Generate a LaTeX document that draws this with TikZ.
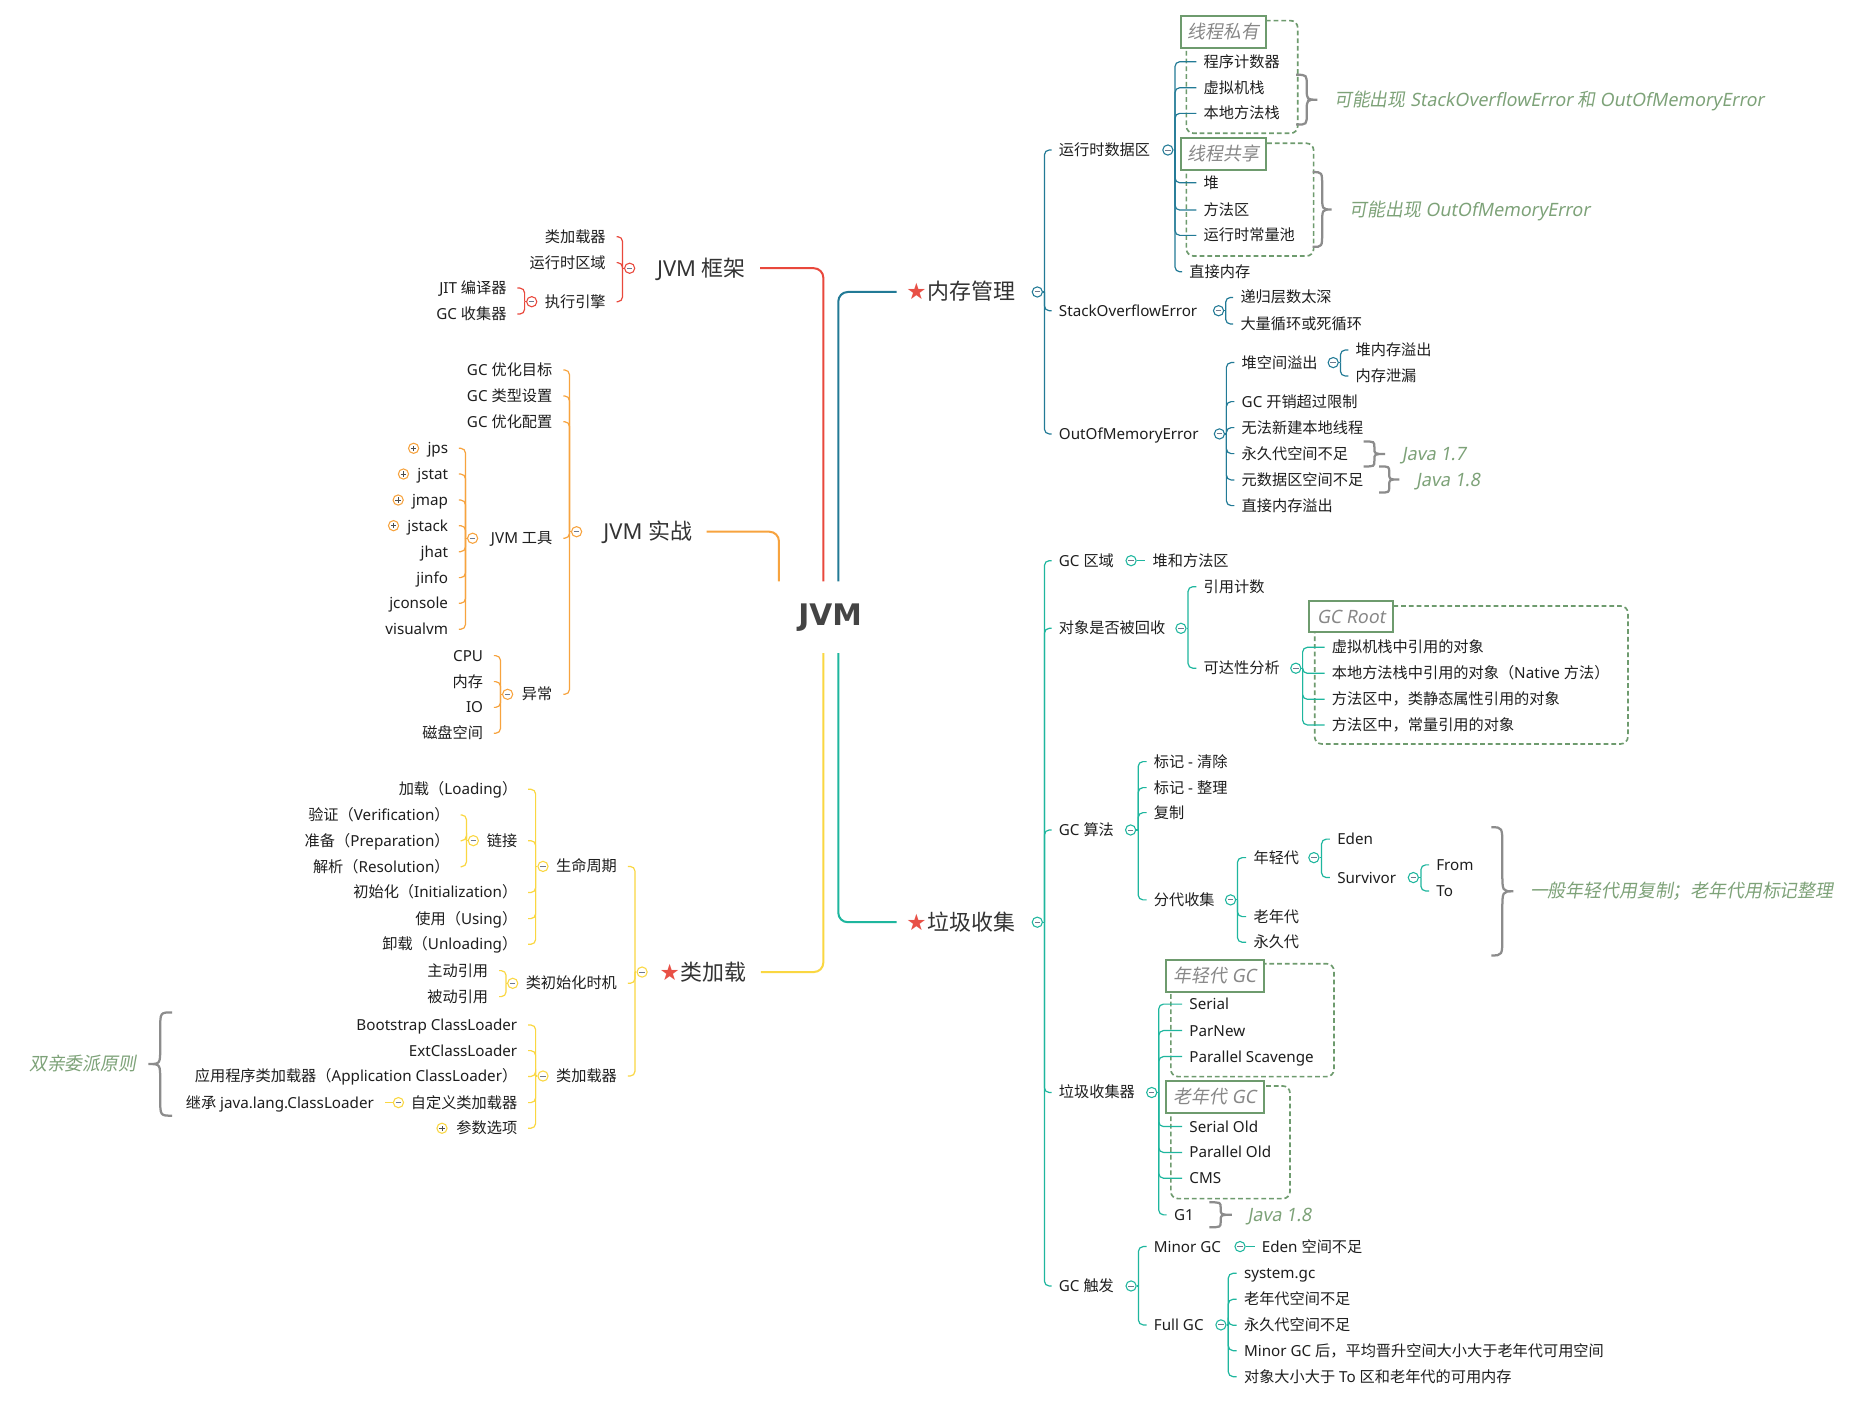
\documentclass[tikz,border=0pt]{standalone}
\usepackage{fontspec}
\setmainfont{Noto Sans}
\newfontfamily\mainlatin{Noto Sans}
\newfontfamily\cjkfont{Noto Sans CJK SC}
\newfontfamily\dejavu{DejaVu Sans}
\newfontfamily\notelatin[FakeSlant=0.18,FakeStretch=0.97]{Noto Sans}
\newfontfamily\notecjk[FakeSlant=0.18,FakeStretch=0.97]{Noto Sans CJK SC}
\let\curlatin\mainlatin
\let\curcjk\cjkfont
\XeTeXinterchartokenstate=1
\newXeTeXintercharclass\CJKclass
\newcount\cjkc
\cjkc="3000
\loop\XeTeXcharclass\cjkc=\CJKclass\advance\cjkc by 1\ifnum\cjkc<"A000\repeat
\cjkc="FF00
\loop\XeTeXcharclass\cjkc=\CJKclass\advance\cjkc by 1\ifnum\cjkc<"FFF0\repeat
\XeTeXinterchartoks 0 \CJKclass={\curcjk}
\XeTeXinterchartoks 4095 \CJKclass={\curcjk}
\XeTeXinterchartoks \CJKclass 0={\curlatin}
\XeTeXinterchartoks \CJKclass 4095={\curlatin}

\definecolor{cR}{RGB}{233,72,60}
\definecolor{cO}{RGB}{247,163,62}
\definecolor{cY}{RGB}{250,215,65}
\definecolor{cB}{RGB}{34,122,150}
\definecolor{cT}{RGB}{30,182,158}
\definecolor{txt}{RGB}{30,30,30}
\definecolor{mtxt}{RGB}{51,51,51}
\definecolor{jvmc}{RGB}{68,68,68}
\definecolor{notegreen}{RGB}{125,162,120}
\definecolor{boxgreen}{RGB}{110,155,110}
\definecolor{titlegray}{RGB}{135,135,135}
\definecolor{bracegray}{RGB}{140,140,140}
\definecolor{mincol}{RGB}{110,120,140}
\definecolor{starred}{RGB}{232,80,70}

\newcommand\notesty{\let\curlatin\notelatin\let\curcjk\notecjk\notelatin\fontsize{15.5}{17}\selectfont}
\newcommand\staricon{{\color{starred}\dejavu\fontsize{19}{19}\selectfont ★}\hspace{0.5pt}}

\tikzset{
  sml/.style={font=\fontsize{12.8}{14}\selectfont, text=txt, inner ysep=0pt, text height=10.2pt, text depth=1pt},
  rn/.style={sml, anchor=west, inner xsep=6pt},
  ln/.style={sml, anchor=east, inner xsep=9pt},
  mainfnt/.style={font=\fontsize{18.5}{20}\selectfont, text=mtxt, inner ysep=0pt, text height=14.4pt, text depth=1pt},
  mainr/.style={mainfnt, anchor=west, inner xsep=8pt},
  mainl/.style={mainfnt, anchor=east, inner xsep=12pt},
  sub/.style={draw=#1, line width=1pt, rounded corners=4pt},
  mainline/.style={draw=#1, line width=1.7pt, rounded corners=8pt},
  notenode/.style={font=\notesty, text=notegreen, inner sep=0pt, anchor=west, text height=12.2pt, text depth=1pt},
  titlebox/.style={draw=boxgreen, line width=1.8pt, fill=white, font=\notesty, text=titlegray, inner sep=0pt, text height=12.2pt, text depth=1pt},
  dashbox/.style={draw=boxgreen, line width=1.4pt, dash pattern=on 4pt off 2.5pt, rounded corners=6pt},
  bracepath/.style={draw=bracegray, line width=1.9pt},
}

\newcommand\mincirc[4]{%
  \node[circle, draw=#4, fill=white, line width=0.9pt, minimum size=8.6pt, inner sep=0pt] (#1) at (#2,#3) {};
  \draw[mincol, line width=0.8pt] ([xshift=-2.3pt]#1.center) -- ([xshift=2.3pt]#1.center);}
\newcommand\pluscirc[3]{%
  \node[circle, draw=#3, fill=white, line width=0.9pt, minimum size=8.6pt, inner sep=0pt] (#1) at (#2) {};
  \draw[black!70, line width=0.8pt] ([xshift=-2.3pt]#1.center) -- ([xshift=2.3pt]#1.center)
     ([yshift=-2.3pt]#1.center) -- ([yshift=2.3pt]#1.center);}
\newcommand\rconn[3]{\foreach \nn in {#3} {\draw[sub=#1] (#2) |- (\nn.west);}}
\newcommand\lconn[3]{\foreach \nn in {#3} {\draw[sub=#1] (#2) |- (\nn.east);}}
\newcommand\curlyb[5]{%
  \draw[bracepath] (#1,#3) .. controls ({(#1+#2)/2},#3) .. ({(#1+#2)/2},{#3+#5})
   -- ({(#1+#2)/2},{(#3+#4)/2-#5}) .. controls ({(#1+#2)/2},{(#3+#4)/2}) .. (#2,{(#3+#4)/2})
   .. controls ({(#1+#2)/2},{(#3+#4)/2}) .. ({(#1+#2)/2},{(#3+#4)/2+#5})
   -- ({(#1+#2)/2},{#4-#5}) .. controls ({(#1+#2)/2},#4) .. (#1,#4);}

\begin{document}
\begin{tikzpicture}[x=1pt,y=-1pt]
\useasboundingbox[fill=white] (0,0) rectangle (1568,1183);

% ---------- dashed group boxes ----------
\draw[dashbox] (999.6,17.4) rectangle (1093.4,112.3);
\draw[dashbox] (999.6,120.7) rectangle (1106.8,215.7);
\draw[dashbox] (1107.7,510.6) rectangle (1371.6,626.8);
\draw[dashbox] (986.5,812) rectangle (1123.9,907.1);
\draw[dashbox] (986.5,915) rectangle (1086.9,1009.9);

% ---------- centre and main branches ----------
\node[font=\dejavu\bfseries\fontsize{25}{28}\selectfont, text=jvmc, minimum height=60pt, inner sep=0pt] (jvm) at (699.5,520) {JVM};
\node[mainl] (kj) at (640.5,226) {JVM 框架};
\node[mainl] (sz) at (595.4,448) {JVM 实战};
\node[mainl] (jz) at (641,819) {\staricon{}类加载};
\node[mainr] (mm) at (755.5,246) {\staricon{}内存管理};
\node[mainr] (lj) at (755.5,777) {\staricon{}垃圾收集};
\draw[mainline=cR] ([xshift=-5.8pt]jvm.north) |- (kj.east);
\draw[mainline=cO] ([xshift=-43.2pt]jvm.north) |- (sz.east);
\draw[mainline=cY] ([xshift=-5.8pt]jvm.south) |- (jz.east);
\draw[mainline=cB] ([xshift=6.8pt]jvm.north) |- (mm.west);
\draw[mainline=cT] ([xshift=6.8pt]jvm.south) |- (lj.west);

% ---------- JVM 框架 ----------
\mincirc{kjc}{530.5}{226}{cR}
\coordinate (kjb) at (524.5,226);
\node[ln] (k1) at (519.5,199.4) {类加载器};
\node[ln] (k2) at (519.5,221.3) {运行时区域};
\node[ln] (k3) at (519.5,254.2) {执行引擎};
\draw[sub=cR] (kjc) -- (kjb);
\lconn{cR}{kjb}{k1,k2,k3}
\mincirc{k3c}{448}{254.2}{cR}
\coordinate (k3b) at (442,254.2);
\node[ln] (k31) at (436,242.7) {JIT 编译器};
\node[ln] (k32) at (436,264.6) {GC 收集器};
\draw[sub=cR] (k3c) -- (k3b);
\lconn{cR}{k3b}{k31,k32}

% ---------- JVM 实战 ----------
\mincirc{szc}{485.8}{448}{cO}
\coordinate (szb) at (479.8,448);
\node[ln] (s1) at (474.6,311.7) {GC 优化目标};
\node[ln] (s2) at (474.6,333.6) {GC 类型设置};
\node[ln] (s3) at (474.6,355.3) {GC 优化配置};
\node[ln] (s4) at (474.6,453.5) {JVM 工具};
\node[ln] (s5) at (474.6,585) {异常};
\draw[sub=cO] (szc) -- (szb);
\lconn{cO}{szb}{s1,s2,s3,s4,s5}
\mincirc{s4c}{398.2}{453.5}{cO}
\coordinate (s4b) at (392.2,453.5);
\node[ln] (t1) at (386.7,377.7) {jps};
\node[ln] (t2) at (386.7,399.4) {jstat};
\node[ln] (t3) at (386.7,421.3) {jmap};
\node[ln] (t4) at (386.7,442.9) {jstack};
\node[ln] (t5) at (386.7,464.8) {jhat};
\node[ln] (t6) at (386.7,486.7) {jinfo};
\node[ln] (t7) at (386.7,508.3) {jconsole};
\node[ln] (t8) at (386.7,530.2) {visualvm};
\draw[sub=cO] (s4c) -- (s4b);
\lconn{cO}{s4b}{t1,t2,t3,t4,t5,t6,t7,t8}
\pluscirc{t1p}{[xshift=-2.5pt]t1.west}{cO}
\pluscirc{t2p}{[xshift=-2.5pt]t2.west}{cO}
\pluscirc{t3p}{[xshift=-2.5pt]t3.west}{cO}
\pluscirc{t4p}{[xshift=-2.5pt]t4.west}{cO}
\mincirc{s5c}{427.7}{585}{cO}
\coordinate (s5b) at (421.7,585);
\node[ln] (e1) at (416.2,552.4) {CPU};
\node[ln] (e2) at (416.2,574.3) {内存};
\node[ln] (e3) at (416.2,596) {IO};
\node[ln] (e4) at (416.2,617.8) {磁盘空间};
\draw[sub=cO] (s5c) -- (s5b);
\lconn{cO}{s5b}{e1,e2,e3,e4}

% ---------- 类加载 ----------
\mincirc{jzc}{541}{819}{cY}
\coordinate (jzb) at (535,819);
\node[ln] (y1) at (529,730) {生命周期};
\node[ln] (y2) at (529,828.5) {类初始化时机};
\node[ln] (y3) at (529,906.6) {类加载器};
\draw[sub=cY] (jzc) -- (jzb);
\lconn{cY}{jzb}{y1,y2,y3}
\mincirc{y1c}{457.5}{730}{cY}
\coordinate (y1b) at (451.3,730);
\node[ln] (l1) at (445,665) {加载（Loading）};
\node[ln] (l2) at (445,708.3) {链接};
\node[ln] (l3) at (445,752) {初始化（Initialization）};
\node[ln] (l4) at (445,774) {使用（Using）};
\node[ln] (l5) at (445,795.6) {卸载（Unloading）};
\draw[sub=cY] (y1c) -- (y1b);
\lconn{cY}{y1b}{l1,l2,l3,l4,l5}
\mincirc{l2c}{398.8}{708.3}{cY}
\coordinate (l2b) at (393,708.3);
\node[ln] (l21) at (388,686.6) {验证（Verification）};
\node[ln] (l22) at (388,708.3) {准备（Preparation）};
\node[ln] (l23) at (388,730.2) {解析（Resolution）};
\draw[sub=cY] (l2c) -- (l2b);
\lconn{cY}{l2b}{l21,l22,l23}
\mincirc{y2c}{432}{828.5}{cY}
\coordinate (y2b) at (426.4,828.5);
\node[ln] (i1) at (420.5,817.8) {主动引用};
\node[ln] (i2) at (420.5,839.7) {被动引用};
\draw[sub=cY] (y2c) -- (y2b);
\lconn{cY}{y2b}{i1,i2}
\mincirc{y3c}{457.5}{906.6}{cY}
\coordinate (y3b) at (451.3,906.6);
\node[ln] (c1) at (445,863.6) {Bootstrap ClassLoader};
\node[ln] (c2) at (445,885.2) {ExtClassLoader};
\node[ln] (c3) at (445,907) {应用程序类加载器（Application ClassLoader）};
\node[ln] (c4) at (445,929) {自定义类加载器};
\node[ln] (c5) at (445,950.6) {参数选项};
\draw[sub=cY] (y3c) -- (y3b);
\lconn{cY}{y3b}{c1,c2,c3,c4,c5}
\mincirc{c4c}{335.7}{929}{cY}
\node[ln] (c41) at (324.2,929) {继承 java.lang.ClassLoader};
\draw[sub=cY] (c4c) -- (c41.east);
\pluscirc{c5p}{[xshift=-3pt]c5.west}{cY}
\curlyb{145}{125}{853}{940}{14}
\node[notenode, anchor=east] (nq) at (115,896) {双亲委派原则};

% ---------- 内存管理 ----------
\mincirc{mmc}{874}{246}{cB}
\coordinate (mmb) at (880,246);
\node[rn] (m1) at (886,126.4) {运行时数据区};
\node[rn] (m2) at (886,261.8) {StackOverflowError};
\node[rn] (m3) at (886,365.6) {OutOfMemoryError};
\draw[sub=cB] (mmc) -- (mmb);
\rconn{cB}{mmb}{m1,m2,m3}
\mincirc{m1c}{984}{126.4}{cB}
\coordinate (m1b) at (990,126.4);
\node[rn] (m11) at (1008,52) {程序计数器};
\node[rn] (m12) at (1008,73.9) {虚拟机栈};
\node[rn] (m13) at (1008,95.5) {本地方法栈};
\node[rn] (m14) at (1008,154) {堆};
\node[rn] (m15) at (1008,177) {方法区};
\node[rn] (m16) at (1008,198.3) {运行时常量池};
\node[rn] (m17) at (996,229) {直接内存};
\draw[sub=cB] (m1c) -- (m1b);
\rconn{cB}{m1b}{m11,m12,m13,m14,m15,m16,m17}
\node[titlebox, minimum width=71.6pt, minimum height=27.5pt] (tb1) at (1030.8,27) {线程私有};
\node[titlebox, minimum width=71.6pt, minimum height=27.2pt] (tb2) at (1030.8,129.6) {线程共享};
\curlyb{1092}{1110}{63}{105}{9}
\node[notenode] (n1) at (1124,84) {可能出现 StackOverflowError 和 OutOfMemoryError};
\curlyb{1106}{1122}{145}{208}{12}
\node[notenode] (n2) at (1137,177) {可能出现 OutOfMemoryError};
\mincirc{m2c}{1026.7}{261.8}{cB}
\coordinate (m2b) at (1032.7,261.8);
\node[rn] (m21) at (1039,250.6) {递归层数太深};
\node[rn] (m22) at (1039,273) {大量循环或死循环};
\draw[sub=cB] (m2c) -- (m2b);
\rconn{cB}{m2b}{m21,m22}
\mincirc{m3c}{1027.4}{365.6}{cB}
\coordinate (m3b) at (1033.3,365.6);
\node[rn] (m31) at (1040,305.5) {堆空间溢出};
\node[rn] (m32) at (1040,338.4) {GC 开销超过限制};
\node[rn] (m33) at (1040,360.3) {无法新建本地线程};
\node[rn] (m34) at (1040,382.2) {永久代空间不足};
\node[rn] (m35) at (1040,404.4) {元数据区空间不足};
\node[rn] (m36) at (1040,426) {直接内存溢出};
\draw[sub=cB] (m3c) -- (m3b);
\rconn{cB}{m3b}{m31,m32,m33,m34,m35,m36}
\mincirc{m31c}{1123.3}{305.5}{cB}
\coordinate (m31b) at (1129.4,305.5);
\node[rn] (m311) at (1136,294.9) {堆内存溢出};
\node[rn] (m312) at (1136,316.8) {内存泄漏};
\draw[sub=cB] (m31c) -- (m31b);
\rconn{cB}{m31b}{m311,m312}
\curlyb{1149}{1167}{372}{393}{5}
\node[notenode] (n3) at (1181,382.2) {Java 1.7};
\curlyb{1162}{1179}{393}{415}{5}
\node[notenode] (n4) at (1193,404.4) {Java 1.8};

% ---------- 垃圾收集 ----------
\mincirc{ljc}{874}{777}{cT}
\coordinate (ljb) at (880,777);
\node[rn] (g1) at (886,472.4) {GC 区域};
\node[rn] (g2) at (886,529.4) {对象是否被回收};
\node[rn] (g3) at (886,699.3) {GC 算法};
\node[rn] (g4) at (886,920.5) {垃圾收集器};
\node[rn] (g5) at (886,1083.5) {GC 触发};
\draw[sub=cT] (ljc) -- (ljb);
\rconn{cT}{ljb}{g1,g2,g3,g4,g5}
\mincirc{g1c}{953}{472.4}{cT}
\node[rn] (g11) at (965,472.4) {堆和方法区};
\draw[sub=cT] (g1c) -- (g11.west);
\mincirc{g2c}{995}{529.4}{cT}
\coordinate (g2b) at (1001,529.4);
\node[rn] (g21) at (1008,494.3) {引用计数};
\node[rn] (g22) at (1008,563) {可达性分析};
\draw[sub=cT] (g2c) -- (g2b);
\rconn{cT}{g2b}{g21,g22}
\mincirc{g22c}{1091.8}{563}{cT}
\coordinate (g22b) at (1097.5,563);
\node[rn] (r1) at (1116,545.4) {虚拟机栈中引用的对象};
\node[rn] (r2) at (1116,567.3) {本地方法栈中引用的对象（Native 方法）};
\node[rn] (r3) at (1116,589.2) {方法区中，类静态属性引用的对象};
\node[rn] (r4) at (1116,610.8) {方法区中，常量引用的对象};
\draw[sub=cT] (g22c) -- (g22b);
\rconn{cT}{g22b}{r1,r2,r3,r4}
\node[titlebox, minimum width=71pt, minimum height=26.3pt] (tb3) at (1138.5,519.5) {GC Root};
\mincirc{g3c}{952.6}{699.3}{cT}
\coordinate (g3b) at (959,699.3);
\node[rn] (a1) at (966,641.7) {标记 - 清除};
\node[rn] (a2) at (966,663.6) {标记 - 整理};
\node[rn] (a3) at (966,684.7) {复制};
\node[rn] (a4) at (966,758.2) {分代收集};
\draw[sub=cT] (g3c) -- (g3b);
\rconn{cT}{g3b}{a1,a2,a3,a4}
\mincirc{a4c}{1036.8}{758.2}{cT}
\coordinate (a4b) at (1042.6,758.2);
\node[rn] (a41) at (1050,722.6) {年轻代};
\node[rn] (a42) at (1050,772.3) {老年代};
\node[rn] (a43) at (1050,793.9) {永久代};
\draw[sub=cT] (a4c) -- (a4b);
\rconn{cT}{a4b}{a41,a42,a43}
\mincirc{a41c}{1107}{722.6}{cT}
\coordinate (a41b) at (1113.5,722.6);
\node[rn] (a411) at (1120.5,707) {Eden};
\node[rn] (a412) at (1120.5,739.4) {Survivor};
\draw[sub=cT] (a41c) -- (a41b);
\rconn{cT}{a41b}{a411,a412}
\mincirc{a412c}{1190.8}{739.4}{cT}
\coordinate (a412b) at (1197.2,739.4);
\node[rn] (f1) at (1204,728.7) {From};
\node[rn] (f2) at (1204,750.7) {To};
\draw[sub=cT] (a412c) -- (a412b);
\rconn{cT}{a412b}{f1,f2}
\curlyb{1256.6}{1275}{697}{805}{16}
\node[notenode] (n6) at (1289,750.5) {一般年轻代用复制；老年代用标记整理};
\mincirc{g4c}{970.4}{920.5}{cT}
\coordinate (g4b) at (976.3,920.5);
\node[rn] (h1) at (996,846) {Serial};
\node[rn] (h2) at (996,868.3) {ParNew};
\node[rn] (h3) at (996,890.2) {Parallel Scavenge};
\node[rn] (h4) at (996,949.2) {Serial Old};
\node[rn] (h5) at (996,971) {Parallel Old};
\node[rn] (h6) at (996,992.7) {CMS};
\node[rn] (h7) at (983,1023.6) {G1};
\draw[sub=cT] (g4c) -- (g4b);
\rconn{cT}{g4b}{h1,h2,h3,h4,h5,h6,h7}
\node[titlebox, minimum width=82.6pt, minimum height=26.7pt] (tb4) at (1023.7,822.2) {年轻代 GC};
\node[titlebox, minimum width=82.6pt, minimum height=27.5pt] (tb5) at (1023.7,924.2) {老年代 GC};
\curlyb{1019}{1038}{1013}{1034}{5}
\node[notenode] (n5) at (1051,1023.6) {Java 1.8};
\mincirc{g5c}{953}{1083.5}{cT}
\coordinate (g5b) at (959.2,1083.5);
\node[rn] (g51) at (966,1050.3) {Minor GC};
\node[rn] (g52) at (966,1116.3) {Full GC};
\draw[sub=cT] (g5c) -- (g5b);
\rconn{cT}{g5b}{g51,g52}
\mincirc{g51c}{1044.8}{1050.3}{cT}
\node[rn] (g511) at (1057,1050.3) {Eden 空间不足};
\draw[sub=cT] (g51c) -- (g511.west);
\mincirc{g52c}{1028.7}{1116.3}{cT}
\coordinate (g52b) at (1034.9,1116.3);
\node[rn] (u1) at (1042,1072.8) {system.gc};
\node[rn] (u2) at (1042,1094.7) {老年代空间不足};
\node[rn] (u3) at (1042,1116.6) {永久代空间不足};
\node[rn] (u4) at (1042,1138) {Minor GC 后，平均晋升空间大小大于老年代可用空间};
\node[rn] (u5) at (1042,1159.9) {对象大小大于 To 区和老年代的可用内存};
\draw[sub=cT] (g52c) -- (g52b);
\rconn{cT}{g52b}{u1,u2,u3,u4,u5}
\end{tikzpicture}
\end{document}
